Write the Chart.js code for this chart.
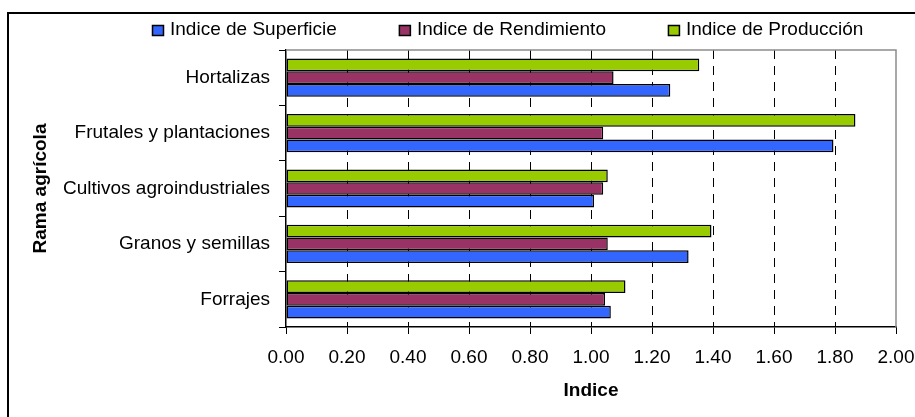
<!DOCTYPE html>
<html>
<head>
<meta charset="utf-8">
<script src="https://cdn.jsdelivr.net/npm/chart.js@4.4.1/dist/chart.umd.min.js"></script>
<style>
  html, body { margin: 0; padding: 0; background: #fff; overflow: hidden; }
  #marco { position: absolute; left: 7px; top: 12px; width: 1000px; height: 500px;
           border-left: 2px solid #000; border-top: 2px solid #000; pointer-events: none; }
  canvas { position: absolute; left: 0; top: 0; }
</style>
</head>
<body>
<canvas id="grafica" width="915" height="417"></canvas>
<div id="marco"></div>
<script>
// Ramas agrícolas (de arriba hacia abajo)
const ramas = ["Hortalizas", "Frutales y plantaciones", "Cultivos agroindustriales", "Granos y semillas", "Forrajes"];

// Índices
const indiceSuperficie = [1.26, 1.795, 1.01, 1.32, 1.065];
const indiceRendimiento = [1.074, 1.04, 1.04, 1.055, 1.046];
const indiceProduccion = [1.355, 1.867, 1.055, 1.395, 1.113];

const ticksX = [0, 0.2, 0.4, 0.6, 0.8, 1.0, 1.2, 1.4, 1.6, 1.8, 2.0];

const fuente = "'Liberation Sans', Arial, sans-serif";

// Leyenda dibujada arriba, en el orden de la original
const leyenda = {
  id: "leyenda",
  afterDraw(chart) {
    const ctx = chart.ctx;
    ctx.save();
    ctx.font = "19px " + fuente;
    ctx.textBaseline = "middle";
    let x = 152;
    const y = 30;
    const orden = [2, 1, 0];
    for (const i of orden) {
      const ds = chart.data.datasets[i];
      ctx.fillStyle = ds.backgroundColor;
      ctx.fillRect(x + 0.5, y - 4.5, 11, 10);
      ctx.strokeStyle = "#000";
      ctx.lineWidth = 1.5;
      ctx.strokeRect(x + 0.5, y - 4.5, 11, 10);
      ctx.fillStyle = "#000";
      ctx.fillText(ds.label, x + 18, y);
      x += 18 + ctx.measureText(ds.label).width + 62;
    }
    ctx.restore();
  }
};

// Borde gris del área de trazado (arriba y derecha)
const bordeArea = {
  id: "bordeArea",
  afterDraw(chart) {
    const { left, top, right, bottom } = chart.chartArea;
    const ctx = chart.ctx;
    ctx.save();
    ctx.strokeStyle = "#8c8c8c";
    ctx.lineWidth = 1.5;
    ctx.beginPath();
    ctx.moveTo(left, top);
    ctx.lineTo(right, top);
    ctx.lineTo(right, bottom);
    ctx.stroke();
    ctx.restore();
  }
};

new Chart(document.getElementById("grafica"), {
  type: "bar",
  data: {
    labels: ramas,
    datasets: [
      { label: "Indice de Producción", data: indiceProduccion, backgroundColor: "#99CC00" },
      { label: "Indice de Rendimiento", data: indiceRendimiento, backgroundColor: "#993366" },
      { label: "Indice de Superficie", data: indiceSuperficie, backgroundColor: "#3366FF" }
    ]
  },
  options: {
    indexAxis: "y",
    responsive: false,
    animation: false,
    devicePixelRatio: 1,
    layout: { padding: { left: 29, right: 19, top: 50, bottom: 15 } },
    datasets: {
      bar: {
        borderColor: "#000",
        borderWidth: 1.5,
        borderSkipped: false,
        barPercentage: 1,
        categoryPercentage: 0.69
      }
    },
    plugins: {
      legend: { display: false },
      tooltip: { enabled: false }
    },
    scales: {
      x: {
        min: 0,
        max: 2,
        afterBuildTicks(scale) {
          scale.ticks = ticksX.map(v => ({ value: v }));
        },
        afterFit(scale) {
          scale.height = 75;
          scale.paddingLeft = 0;
          scale.paddingRight = 0;
        },
        ticks: {
          color: "#000",
          font: { family: fuente, size: 19 },
          padding: 12,
          maxRotation: 0,
          autoSkip: false,
          callback: v => Number(v).toFixed(2)
        },
        grid: {
          color: c => (c.tick && (c.tick.value === 0 || Math.abs(c.tick.value - 2) < 1e-9)) ? "rgba(0,0,0,0)" : "#000",
          tickColor: "#000",
          tickLength: 7,
          lineWidth: 1
        },
        border: { display: true, color: "#000", width: 1.5, dash: [9, 7] },
        title: {
          display: true,
          text: "Indice",
          color: "#000",
          font: { family: fuente, size: 19, weight: "bold" },
          padding: { top: 0, bottom: 0 }
        }
      },
      y: {
        afterFit(scale) { scale.width = 257; },
        ticks: {
          color: "#000",
          font: { family: fuente, size: 19 },
          padding: 9,
          autoSkip: false
        },
        grid: {
          offset: true,
          drawOnChartArea: false,
          tickLength: 7,
          color: "#000",
          lineWidth: 1
        },
        border: { display: true, color: "#000", width: 1.5 },
        title: {
          display: true,
          text: "Rama agrícola",
          color: "#000",
          font: { family: fuente, size: 19, weight: "bold" },
          padding: { top: 0, bottom: 0 }
        }
      }
    }
  },
  plugins: [leyenda, bordeArea]
});
</script>
</body>
</html>
